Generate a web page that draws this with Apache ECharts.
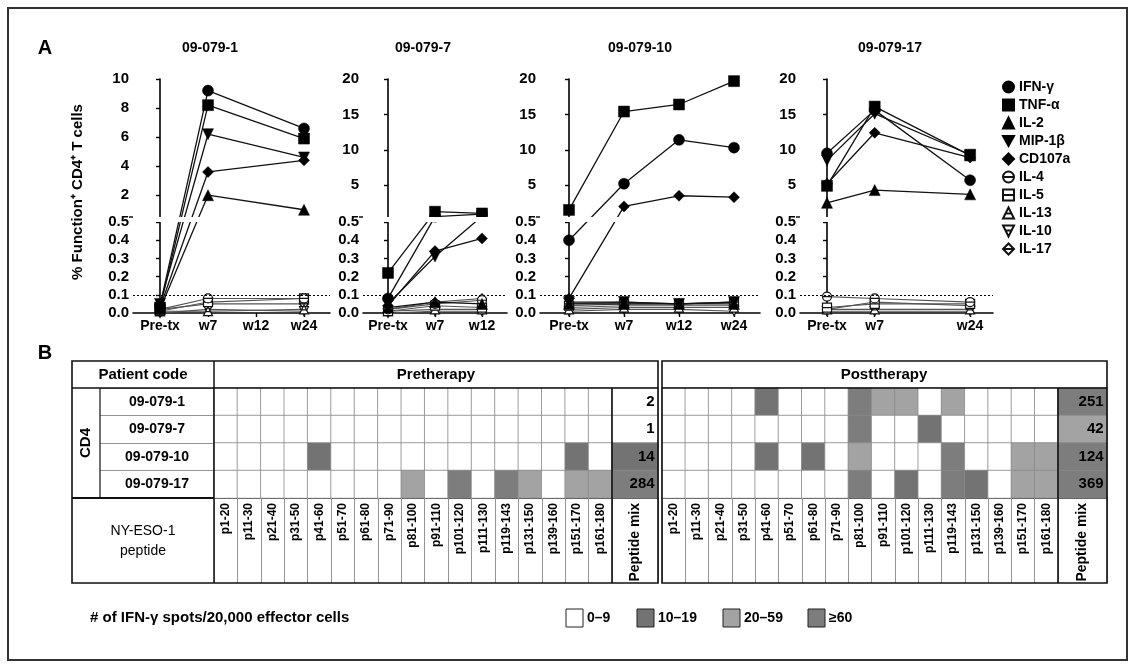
<!DOCTYPE html>
<html><head><meta charset="utf-8">
<script src="https://cdn.jsdelivr.net/npm/echarts@6/dist/echarts.min.js"></script>
<style>html,body{margin:0;padding:0;background:#fff}#c{width:1135px;height:668px}</style>
</head><body><div id="c"></div>
<script>
// ---------------- DATA ----------------
const timepoints = ['Pre-tx', 'w7', 'w12', 'w24'];
const patients = ['09-079-1', '09-079-7', '09-079-10', '09-079-17'];
const markers = ['IFN-γ', 'TNF-α', 'IL-2', 'MIP-1β', 'CD107a', 'IL-4', 'IL-5', 'IL-13', 'IL-10', 'IL-17'];
// time indices sampled per patient
const patientTimes = [[0, 1, 3], [0, 1, 2], [0, 1, 2, 3], [0, 1, 3]];
const patientTickIdx = [[0, 1, 2, 3], [0, 1, 2], [0, 1, 2, 3], [0, 1, 3]];
const yUpperMax = [10, 20, 20, 20];
const yUpperTicks = [[2, 4, 6, 8, 10], [5, 10, 15, 20], [5, 10, 15, 20], [5, 10, 15, 20]];
const yLowerTicks = [0, 0.1, 0.2, 0.3, 0.4, 0.5];

// % function+ CD4+ T cells, one row per patient, aligned with patientTimes
const IFNg   = [[0.04, 9.2, 6.6], [0.08, 0.55, 0.9], [0.40, 5.2, 11.4, 10.3], [9.5, 15.6, 5.7]];
const TNFa   = [[0.03, 8.2, 5.9], [0.22, 1.25, 1.0], [1.5, 15.4, 16.4, 19.7], [4.9, 16.1, 9.2]];
const IL2    = [[0.02, 2.0, 1.0], [0.03, 0.06, 0.05], [0.05, 0.05, 0.05, 0.05], [2.5, 4.3, 3.7]];
const MIP1b  = [[0.05, 6.2, 4.6], [0.05, 0.31, 0.6], [0.06, 0.06, 0.05, 0.06], [8.5, 15.1, 9.3]];
const CD107a = [[0.03, 3.6, 4.4], [0.04, 0.34, 0.41], [0.08, 2.0, 3.5, 3.3], [5.2, 12.4, 8.9]];
const IL4    = [[0.02, 0.08, 0.08], [0.02, 0.05, 0.07], [0.05, 0.06, 0.05, 0.06], [0.09, 0.08, 0.06]];
const IL5    = [[0.01, 0.06, 0.08], [0.01, 0.04, 0.03], [0.04, 0.05, 0.05, 0.06], [0.03, 0.05, 0.05]];
const IL13   = [[0.01, 0.01, 0.02], [0.01, 0.02, 0.02], [0.02, 0.03, 0.03, 0.03], [0.02, 0.02, 0.02]];
const IL10   = [[0.00, 0.02, 0.01], [0.00, 0.01, 0.01], [0.01, 0.02, 0.02, 0.01], [0.01, 0.01, 0.01]];
const IL17   = [[0.02, 0.05, 0.05], [0.02, 0.06, 0.08], [0.03, 0.04, 0.04, 0.04], [0.02, 0.06, 0.04]];
const markerValues = [IFNg, TNFa, IL2, MIP1b, CD107a, IL4, IL5, IL13, IL10, IL17];

// Panel B
const peptides = ['p1-20', 'p11-30', 'p21-40', 'p31-50', 'p41-60', 'p51-70', 'p61-80', 'p71-90', 'p81-100',
  'p91-110', 'p101-120', 'p111-130', 'p119-143', 'p131-150', 'p139-160', 'p151-170', 'p161-180'];
// level: 0 = 0–9, 1 = 10–19, 2 = 20–59, 3 = ≥60 spots
const preLevels = [
  [0,0,0,0,0,0,0,0,0,0,0,0,0,0,0,0,0],
  [0,0,0,0,0,0,0,0,0,0,0,0,0,0,0,0,0],
  [0,0,0,0,1,0,0,0,0,0,0,0,0,0,0,1,0],
  [0,0,0,0,0,0,0,0,2,0,3,0,3,2,0,2,2]];
const postLevels = [
  [0,0,0,0,1,0,0,0,3,2,2,0,2,0,0,0,0],
  [0,0,0,0,0,0,0,0,3,0,0,1,0,0,0,0,0],
  [0,0,0,0,1,0,1,0,2,0,0,0,3,0,0,2,2],
  [0,0,0,0,0,0,0,0,3,0,1,0,3,1,0,2,2]];
const preMix = [2, 1, 14, 284];
const postMix = [251, 42, 124, 369];
const levelLabels = ['0–9', '10–19', '20–59', '≥60'];

// ---------------- STYLE / LAYOUT ----------------
const FONT = 'Liberation Sans, Arial, sans-serif';
const levelColors = ['#ffffff', '#737373', '#a3a3a3', '#7d7d7d'];
const panelAxisX = [133, 363, 540, 800];
const panelRightX = [330, 507, 760, 993];
const panelX0 = [160, 388, 569, 827];
const panelUnit = [48, 47, 55, 47.7];
const titleX = [210, 423, 640, 890];
const GT = 79, L = 91, GAP = 5, U = 138, H = L + GAP + U;

function ty(v, max) { return v <= 0.5 ? v / 0.5 * L : L + GAP + (v - 0.5) / (max - 0.5) * U; }

const openPaths = {
  'IL-4': 'path://M0,5A5,5,0,1,1,10,5A5,5,0,1,1,0,5ZM0,5L10,5',
  'IL-5': 'path://M0,0L10,0L10,10L0,10ZM0,5L10,5',
  'IL-13': 'path://M5,0L10,10L0,10ZM2.5,5.5L7.5,5.5',
  'IL-10': 'path://M0,0L10,0L5,10ZM2.5,4.5L7.5,4.5',
  'IL-17': 'path://M5,0L10,5L5,10L0,5ZM0,5L10,5'
};
const filledSym = {
  'IFN-γ': ['circle', 11], 'TNF-α': ['rect', 11], 'IL-2': ['triangle', 11],
  'MIP-1β': ['path://M0,0L10,0L5,9Z', 11], 'CD107a': ['diamond', 11]
};

const grids = [], xAxes = [], yAxes = [], series = [], graphics = [];

for (let p = 0; p < 4; p++) {
  const left = panelAxisX[p], width = panelRightX[p] - left;
  grids.push({ left: left, top: GT, width: width, height: H });
  const xmin = -(panelX0[p] - left) / panelUnit[p];
  const xmax = (panelRightX[p] - panelX0[p]) / panelUnit[p];
  xAxes.push({
    gridIndex: p, type: 'value', min: xmin, max: xmax,
    axisLine: { onZero: false, lineStyle: { color: '#000', width: 1.6 } },
    axisTick: { customValues: patientTickIdx[p], length: 4, lineStyle: { color: '#000', width: 1.4 } },
    axisLabel: { customValues: patientTickIdx[p], formatter: v => timepoints[Math.round(v)],
      color: '#000', fontFamily: FONT, fontWeight: 'bold', fontSize: 14, margin: 6 },
    splitLine: { show: false }
  });
  const tickVals = [], tickLabs = [];
  yLowerTicks.forEach(t => { tickVals.push(ty(t, yUpperMax[p])); tickLabs.push(t.toFixed(1)); });
  yUpperTicks[p].forEach(t => { tickVals.push(ty(t, yUpperMax[p])); tickLabs.push(String(t)); });
  yAxes.push({
    gridIndex: p, type: 'value', min: 0, max: H,
    axisLine: { show: true, lineStyle: { color: '#000', width: 1.6 } },
    axisTick: { customValues: tickVals, length: 4, lineStyle: { color: '#000', width: 1.4 } },
    axisLabel: { customValues: tickVals, color: '#000', fontFamily: FONT, fontWeight: 'bold', fontSize: 15, margin: 4,
      formatter: v => { let bi = 0, bd = 1e9; tickVals.forEach((tv, i) => { const d = Math.abs(tv - v); if (d < bd) { bd = d; bi = i; } }); return tickLabs[bi]; } },
    splitLine: { show: false }
  });
  // series: open markers first (drawn underneath)
  const order = [9, 8, 7, 6, 5, 2, 3, 4, 1, 0];
  order.forEach(mi => {
    const name = markers[mi];
    const vals = markerValues[mi][p];
    const data = patientTimes[p].map((t, k) => [t, ty(vals[k], yUpperMax[p])]);
    const isOpen = !!openPaths[name];
    const s = {
      type: 'line', name: name, xAxisIndex: p, yAxisIndex: p, data: data,
      symbol: isOpen ? openPaths[name] : filledSym[name][0],
      symbolSize: isOpen ? 9 : filledSym[name][1],
      showAllSymbol: true, clip: false, animation: false,
      z: isOpen ? 3 : 4,
      lineStyle: { color: isOpen ? '#555' : '#111', width: isOpen ? 1.1 : 1.3 },
      itemStyle: isOpen ? { color: '#fff', borderColor: '#111', borderWidth: 1.2 } : { color: '#000', borderColor: '#000', borderWidth: 0.5 },
      emphasis: { disabled: true }
    };
    if (mi === 5) {
      s.markLine = { silent: true, symbol: 'none', animation: false,
        lineStyle: { type: [2, 2], color: '#000', width: 1.2 }, label: { show: false },
        data: [{ yAxis: ty(0.1, yUpperMax[p]) }] };
    }
    series.push(s);
  });
  // white gap for axis break
  graphics.push({ type: 'rect', z: 100, shape: { x: left - 3, y: GT + U, width: width + 6, height: GAP }, style: { fill: '#fff' } });
  graphics.push({ type: 'line', z: 101, shape: { x1: left - 4, y1: GT + U, x2: left, y2: GT + U }, style: { stroke: '#000', lineWidth: 1.4 } });
  // titles
  graphics.push({ type: 'text', x: titleX[p], y: 48, style: { text: patients[p], align: 'center', verticalAlign: 'middle', font: 'bold 14px ' + FONT, fill: '#000' } });
}

// ---------- Panel B heatmaps ----------
const TT = 361, RT = 388, RB = 498, TB = 583;
const hm = [
  { left: 214, width: 398, cats: peptides, levels: preLevels, mix: null },
  { left: 612, width: 46, cats: ['Peptide mix'], levels: null, mix: preMix },
  { left: 662, width: 396, cats: peptides, levels: postLevels, mix: null },
  { left: 1058, width: 49, cats: ['Peptide mix'], levels: null, mix: postMix }
];
const levelSeries = [], mixSeries = [];
hm.forEach((h, i) => {
  const gi = 4 + i;
  grids.push({ left: h.left, top: RT, width: h.width, height: RB - RT });
  xAxes.push({
    gridIndex: gi, type: 'category', data: h.cats, position: 'bottom',
    axisLine: { show: true, lineStyle: { color: '#111', width: 2 } },
    axisTick: { show: true, interval: 0, length: TB - RB, lineStyle: { color: '#888', width: 0.9 } },
    axisLabel: { interval: 0, rotate: 90, margin: 5, color: '#000', fontFamily: FONT, fontWeight: 'bold',
      fontSize: h.mix ? 14 : 12 },
    splitLine: { show: false }
  });
  yAxes.push({
    gridIndex: gi, type: 'category', data: patients, inverse: true,
    show: i === 0,
    axisLine: { show: true, lineStyle: { color: '#111', width: 1.5 } },
    axisTick: { show: true, interval: 0, length: 114, lineStyle: { color: '#888', width: 0.9 } },
    axisLabel: { align: 'center', margin: 57, color: '#000', fontFamily: FONT, fontWeight: 'bold', fontSize: 14 },
    splitLine: { show: false }
  });
  const data = [];
  if (h.levels) {
    h.levels.forEach((row, r) => row.forEach((lv, c) => data.push([c, r, lv])));
    levelSeries.push(series.length);
  } else {
    h.mix.forEach((v, r) => data.push([0, r, v]));
    mixSeries.push(series.length);
  }
  series.push({
    type: 'heatmap', xAxisIndex: gi, yAxisIndex: gi, data: data, animation: false,
    itemStyle: { borderColor: '#8a8a8a', borderWidth: 0.8 },
    emphasis: { disabled: true },
    label: h.mix ? { show: true, position: 'insideRight', distance: 4, formatter: pp => String(pp.value[2]),
      color: '#000', fontFamily: FONT, fontWeight: 'bold', fontSize: 15 } : { show: false }
  });
});

// table frame & texts
const line = (x1, y1, x2, y2, w, c) => ({ type: 'line', z: 50, shape: { x1, y1, x2, y2 }, style: { stroke: c || '#111', lineWidth: w || 1.5 } });
const txt = (x, y, t, font, extra) => Object.assign({ type: 'text', z: 60, x: x, y: y,
  style: { text: t, align: 'center', verticalAlign: 'middle', font: font, fill: '#000' } }, extra || {});
graphics.push(
  { type: 'rect', z: 50, shape: { x: 72, y: TT, width: 586, height: TB - TT }, style: { fill: 'none', stroke: '#111', lineWidth: 1.6 } },
  { type: 'rect', z: 50, shape: { x: 662, y: TT, width: 445, height: TB - TT }, style: { fill: 'none', stroke: '#111', lineWidth: 1.6 } },
  line(72, RT, 658, RT, 1.4), line(662, RT, 1107, RT, 1.4),
  line(72, RB, 214, RB, 2), line(100, RT, 100, RB, 1.2), line(214, TT, 214, TB, 1.5),
  line(612, RT, 612, TB, 1.6), line(1058, RT, 1058, TB, 1.6),
  txt(143, 375, 'Patient code', 'bold 15px ' + FONT),
  txt(436, 375, 'Pretherapy', 'bold 15px ' + FONT),
  txt(884, 375, 'Posttherapy', 'bold 15px ' + FONT),
  txt(86, 443, 'CD4', 'bold 15px ' + FONT, { rotation: Math.PI / 2 }),
  txt(143, 531, 'NY-ESO-1', '14px ' + FONT),
  txt(143, 551, 'peptide', '14px ' + FONT)
);
// bottom colour key
graphics.push({ type: 'text', z: 60, x: 90, y: 618, style: { text: '# of IFN-γ spots/20,000 effector cells', align: 'left', verticalAlign: 'middle', font: 'bold 15px ' + FONT, fill: '#000' } });
const keyX = [566, 637, 723, 808];
levelLabels.forEach((lab, i) => {
  graphics.push({ type: 'rect', z: 60, shape: { x: keyX[i], y: 609, width: 17, height: 18 }, style: { fill: levelColors[i], stroke: '#222', lineWidth: 1 } });
  graphics.push({ type: 'text', z: 60, x: keyX[i] + 21, y: 618, style: { text: lab, align: 'left', verticalAlign: 'middle', font: 'bold 14px ' + FONT, fill: '#000' } });
});
// frame, panel letters, axis title
graphics.push(
  { type: 'rect', z: 0, shape: { x: 8, y: 8, width: 1119, height: 652 }, style: { fill: 'none', stroke: '#333', lineWidth: 2 } },
  txt(45, 48, 'A', 'bold 20px ' + FONT),
  txt(45, 353, 'B', 'bold 20px ' + FONT),
  txt(78, 192, '% Function⁺ CD4⁺ T cells', 'bold 15px ' + FONT, { rotation: Math.PI / 2 })
);

const legendData = markers.map(m => ({ name: m, icon: openPaths[m] || filledSym[m][0] }));

const option = {
  animation: false,
  grid: grids, xAxis: xAxes, yAxis: yAxes, series: series,
  legend: {
    data: legendData, orient: 'vertical', left: 997, top: 75, itemWidth: 11, itemHeight: 11, itemGap: 4,
    textStyle: { fontFamily: FONT, fontWeight: 'bold', fontSize: 14, color: '#000' }, selectedMode: false
  },
  visualMap: [
    { type: 'piecewise', show: false, seriesIndex: levelSeries, dimension: 2,
      pieces: [0, 1, 2, 3].map(v => ({ value: v, color: levelColors[v] })) },
    { type: 'piecewise', show: false, seriesIndex: mixSeries, dimension: 2,
      pieces: [{ min: 0, max: 9.5, color: levelColors[0] }, { min: 9.5, max: 19.5, color: levelColors[1] },
               { min: 19.5, max: 59.5, color: levelColors[2] }, { min: 59.5, color: levelColors[3] }] }
  ],
  graphic: { elements: graphics }
};
const chart = echarts.init(document.getElementById('c'));
chart.setOption(option);
</script>
</body></html>
